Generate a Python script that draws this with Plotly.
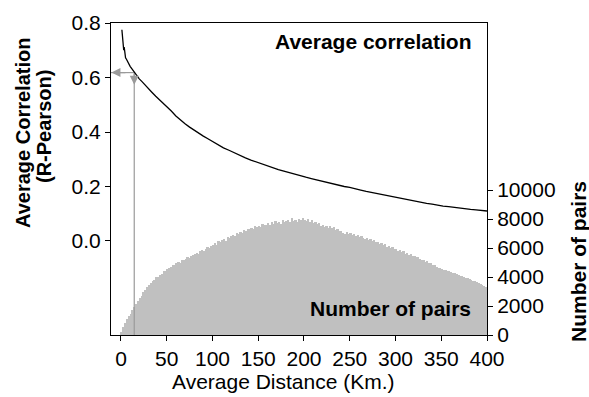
import plotly.graph_objects as go

# ---- data -----------------------------------------------------------------
# number of station pairs per 2-km distance bin (bins start at 0 km)
bin_width_km = 2
pair_counts = [
    200, 520, 820, 1080, 1290, 1480, 1690, 1900, 2120, 2350,
    2560, 2720, 2950, 3100, 3320, 3480, 3560, 3750, 3820, 3980,
    4020, 4150, 4230, 4420, 4380, 4560, 4610, 4700, 4850, 4820,
    4950, 5010, 4980, 5150, 5200, 5250, 5400, 5310, 5480, 5520,
    5560, 5650, 5580, 5760, 5840, 5790, 5950, 6100, 5980, 6160,
    6200, 6350, 6220, 6480, 6400, 6550, 6620, 6500, 6780, 6700,
    6800, 6920, 6850, 7050, 6980, 7100, 7020, 7250, 7150, 7300,
    7280, 7400, 7320, 7500, 7420, 7550, 7480, 7680, 7560, 7620,
    7700, 7580, 7780, 7660, 7850, 7720, 7800, 7680, 7900, 7760,
    7850, 7950, 7780, 8050, 7880, 7950, 7820, 8000, 7900, 8080,
    7950, 7850, 7980, 7760, 7900, 7700, 7820, 7650, 7700, 7550,
    7600, 7480, 7550, 7400, 7500, 7350, 7420, 7250, 7300, 7150,
    7200, 7050, 6950, 7100, 6980, 7050, 6900, 6950, 6800, 6880,
    6750, 6820, 6700, 6620, 6700, 6550, 6600, 6480, 6520, 6380,
    6420, 6300, 6350, 6180, 6250, 6100, 6150, 6020, 6050, 5900,
    5950, 5820, 5860, 5700, 5760, 5620, 5680, 5550, 5580, 5450,
    5480, 5350, 5380, 5250, 5200, 5150, 5050, 5100, 4950, 4980,
    4850, 4800, 4720, 4650, 4600, 4550, 4500, 4480, 4420, 4380,
    4350, 4300, 4250, 4180, 4150, 4100, 4050, 4000, 3950, 3900,
    3850, 3780, 3750, 3700, 3650, 3600, 3520, 3450, 3380, 3300,
]

# average Pearson correlation against average distance
corr_km = [1, 1.5, 2, 2.5, 3, 3.5, 4, 4.5, 5, 6, 7, 8, 9, 10, 12, 14, 16, 18,
           20, 23, 26, 30, 34, 38, 42, 46, 50, 55, 60, 65, 70, 75, 80, 85, 90,
           95, 100, 106, 112, 118, 124, 130, 136, 142, 148, 154, 160, 166, 172,
           178, 184, 190, 196, 202, 208, 214, 220, 226, 232, 238, 244, 250,
           256, 262, 268, 274, 280, 286, 292, 298, 304, 310, 316, 322, 328,
           334, 340, 346, 352, 358, 364, 370, 376, 382, 388, 394, 400]
corr_r = [0.775, 0.760, 0.745, 0.725, 0.700, 0.712, 0.688, 0.698, 0.672,
          0.667, 0.660, 0.652, 0.647, 0.641, 0.632, 0.622, 0.613, 0.604,
          0.595, 0.585, 0.573, 0.558, 0.545, 0.531, 0.519, 0.507, 0.494,
          0.477, 0.459, 0.443, 0.430, 0.418, 0.406, 0.396, 0.385, 0.375,
          0.365, 0.354, 0.342, 0.333, 0.323, 0.314, 0.305, 0.297, 0.290,
          0.282, 0.275, 0.267, 0.262, 0.256, 0.250, 0.244, 0.239, 0.234,
          0.229, 0.224, 0.219, 0.215, 0.210, 0.205, 0.200, 0.197, 0.191,
          0.187, 0.182, 0.178, 0.174, 0.169, 0.165, 0.160, 0.156, 0.152,
          0.149, 0.145, 0.142, 0.138, 0.135, 0.131, 0.128, 0.126, 0.123,
          0.121, 0.118, 0.116, 0.114, 0.112, 0.110]

# distance threshold marked on the chart and its correlation
threshold_km = 14.5
threshold_r = 0.618

x_ticks = [0, 50, 100, 150, 200, 250, 300, 350, 400]
r_ticks = [0.0, 0.2, 0.4, 0.6, 0.8]
count_ticks = [0, 2000, 4000, 6000, 8000, 10000]

# ---- figure ---------------------------------------------------------------
X_RANGE = [-10.9, 400]
R_RANGE = [-0.345, 0.8]
COUNT_RANGE = [0, 21517]
FONT = "Liberation Sans, Arial, sans-serif"
FS = 21
GUIDE = "#9a9a9a"

# plot-area geometry in pixels, used to place the free-standing titles
PLOT_L, PLOT_R, PLOT_T, PLOT_B = 111, 487, 23, 335
PW, PH = PLOT_R - PLOT_L, PLOT_B - PLOT_T


def paper_x(px):
    return (px - PLOT_L) / PW


def paper_y(py):
    return (PLOT_B - py) / PH


def text_note(text, px, py, xanchor="center", yanchor="middle", angle=0,
              size=FS):
    return dict(x=paper_x(px), y=paper_y(py), xref="paper", yref="paper",
                xanchor=xanchor, yanchor=yanchor, showarrow=False,
                textangle=angle, text=text,
                font=dict(family=FONT, size=size, color="black"))


bin_centers = [bin_width_km * i + bin_width_km / 2 for i in range(len(pair_counts))]

fig = go.Figure()

fig.add_trace(go.Bar(
    x=bin_centers, y=pair_counts, width=bin_width_km,
    marker=dict(color="#c0c0c0", line=dict(width=0)),
    yaxis="y", showlegend=False, hoverinfo="skip",
))

# guide lines from the threshold point to both axes
fig.add_trace(go.Scatter(
    x=[threshold_km, threshold_km], y=[R_RANGE[0], threshold_r],
    mode="lines", line=dict(color=GUIDE, width=1.2),
    yaxis="y2", showlegend=False, hoverinfo="skip",
))
fig.add_trace(go.Scatter(
    x=[X_RANGE[0], threshold_km], y=[threshold_r, threshold_r],
    mode="lines", line=dict(color=GUIDE, width=1.2),
    yaxis="y2", showlegend=False, hoverinfo="skip",
))

fig.add_trace(go.Scatter(
    x=corr_km, y=corr_r, mode="lines",
    line=dict(color="black", width=1.3),
    yaxis="y2", showlegend=False,
))

axis_common = dict(
    showgrid=False, zeroline=False, ticks="outside", ticklen=5,
    tickwidth=1, tickcolor="black", linecolor="black", linewidth=1,
    tickfont=dict(family=FONT, size=FS, color="black"),
)

fig.update_layout(
    width=589, height=397, autosize=False,
    margin=dict(l=PLOT_L, r=589 - PLOT_R, t=PLOT_T, b=397 - PLOT_B),
    plot_bgcolor="white", paper_bgcolor="white",
    bargap=0,
    xaxis=dict(range=X_RANGE, tickvals=x_ticks, showline=True, mirror=True,
               **axis_common),
    yaxis=dict(range=COUNT_RANGE, tickvals=count_ticks, tickformat="d",
               side="right", showline=True, mirror=True, **axis_common),
    yaxis2=dict(range=R_RANGE, tickvals=r_ticks, tickformat=".1f",
                side="left", overlaying="y", showline=False, **axis_common),
    annotations=[
        # arrowheads on the guide lines
        dict(x=X_RANGE[0] + 0.5, y=threshold_r, ax=threshold_km - 8, ay=threshold_r,
             xref="x", yref="y2", axref="x", ayref="y2", text="",
             showarrow=True, arrowhead=2, arrowsize=1.5, arrowwidth=1.2,
             arrowcolor=GUIDE),
        dict(x=threshold_km, y=threshold_r - 0.045, ax=threshold_km,
             ay=threshold_r, xref="x", yref="y2", axref="x", ayref="y2",
             text="", showarrow=True, arrowhead=2, arrowsize=1.5,
             arrowwidth=1.2, arrowcolor=GUIDE),
        text_note("<b>Average correlation</b>", 473, 28,
                  xanchor="right", yanchor="top"),
        text_note("<b>Number of pairs</b>", 473, 322,
                  xanchor="right", yanchor="bottom"),
        text_note("Average Distance (Km.)", 283, 381),
        text_note("<b>Average Correlation</b>", 23, 133, angle=-90, size=20),
        text_note("<b>(R-Pearson)</b>", 44, 127, angle=-90, size=20),
        text_note("<b>Number of pairs</b>", 578, 262, angle=-90),
    ],
)

fig.write_html("out.html")
